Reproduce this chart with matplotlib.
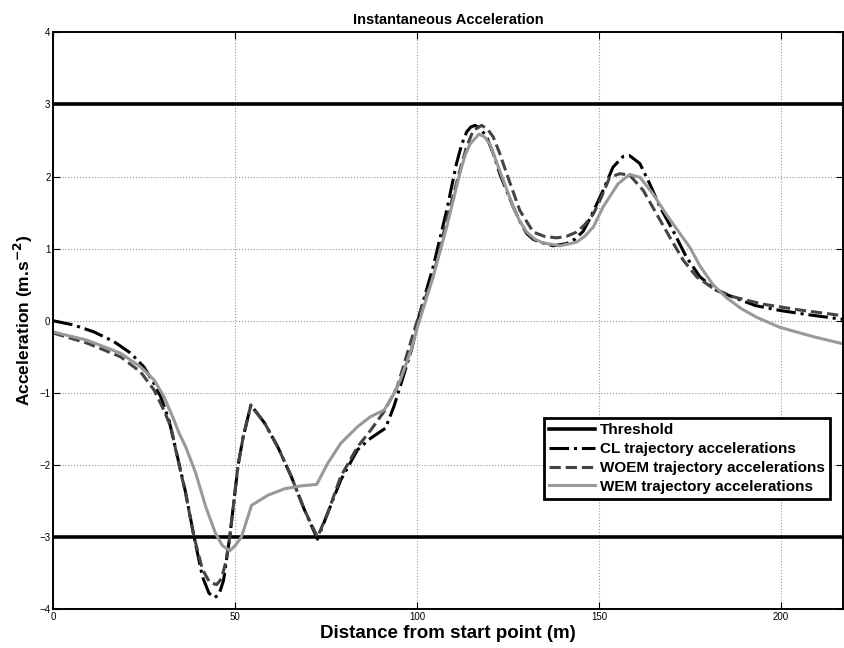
import matplotlib
matplotlib.use("Agg")
import matplotlib.pyplot as plt

plt.rcParams["font.family"] = ["Liberation Sans", "DejaVu Sans"]

# threshold levels
threshold_hi = 3
threshold_lo = -3

# CL trajectory
cl_x = [0, 5.7, 11.2, 16.7, 21.3, 24.9, 27.7, 29.5, 31.8, 33.7, 36.4, 38.7, 41, 42.8, 44.4,
        45.6, 46.8, 48.5, 50.8, 52.2, 54.3, 58.1, 61.7, 65.4, 69, 72.6, 75.4, 79, 83.6,
        87.2, 91.3, 93.6, 95.9, 98.5, 100.7, 104.4, 108.1, 110.8, 112.2, 113.6, 114.8,
        115.9, 117.3, 119.1, 120.9, 122.7, 124.6, 126.4, 128.2, 130.1, 131.9, 133.7, 137.4,
        141, 143.3, 145.6, 147.5, 151.1, 153.8, 156.6, 158.4, 161.2, 163.9, 166.7, 170.3,
        174, 177.7, 182.3, 187.7, 193, 200, 208, 217]
cl_y = [0, -0.06, -0.155, -0.29, -0.45, -0.64, -0.87, -1.05, -1.38, -1.79, -2.39, -3.0,
        -3.55, -3.78, -3.84, -3.79, -3.6, -3.0, -2.0, -1.61, -1.17, -1.42, -1.75, -2.16,
        -2.62, -3.03, -2.67, -2.21, -1.79, -1.63, -1.49, -1.19, -0.82, -0.39, 0.10, 0.75,
        1.53, 2.18, 2.44, 2.62, 2.69, 2.71, 2.67, 2.55, 2.32, 2.04, 1.80, 1.58, 1.38, 1.21,
        1.13, 1.09, 1.04, 1.07, 1.13, 1.24, 1.42, 1.81, 2.13, 2.28, 2.29, 2.18, 1.90, 1.58,
        1.25, 0.88, 0.61, 0.42, 0.31, 0.21, 0.14, 0.08, 0.02]

# WOEM trajectory
woem_x = [0, 9.3, 18.5, 24, 27.7, 30.4, 32.3, 33.7, 36.4, 38.7, 41, 43, 44.9, 46.2, 47.4,
          48.5, 50.8, 52.2, 54.3, 58.1, 61.7, 65.4, 69, 72.6, 75.4, 79, 83.6, 87.2, 90.9,
          94.5, 97, 100, 104.4, 108.1, 111.7, 113.5, 115.4, 117.7, 119.3, 120.9, 122.7,
          124.6, 128.2, 131.9, 135, 138.3, 141, 143.8, 146, 148.4, 150.5, 152.9, 155.7,
          158.4, 162.1, 165.8, 169.4, 173.1, 176.8, 181.3, 187, 195, 205, 217]
woem_y = [-0.17, -0.31, -0.5, -0.71, -0.96, -1.24, -1.47, -1.8, -2.4, -3.0, -3.45, -3.63,
          -3.66, -3.58, -3.35, -3.0, -2.0, -1.61, -1.17, -1.42, -1.75, -2.16, -2.62, -3.0,
          -2.67, -2.16, -1.75, -1.52, -1.26, -0.92, -0.5, 0.0, 0.62, 1.39, 2.08, 2.40, 2.64,
          2.71, 2.66, 2.55, 2.32, 2.04, 1.53, 1.23, 1.17, 1.15, 1.17, 1.23, 1.33, 1.48,
          1.70, 1.99, 2.04, 2.02, 1.81, 1.48, 1.16, 0.84, 0.61, 0.45, 0.33, 0.23, 0.15, 0.07]

# WEM trajectory
wem_x = [0, 9.3, 18.5, 24, 27.7, 30.4, 33.2, 34.5, 36.4, 39.2, 41.9, 44.6, 46.5, 48.5, 50,
         51.7, 54.5, 59, 63.6, 68.1, 72.4, 75.4, 79, 83.6, 87.2, 90.9, 93.6, 95.4, 98.5, 100,
         104.4, 108.1, 111.7, 113.2, 114.5, 117, 118.5, 120, 122.7, 126.4, 128.2, 130.1,
         132.4, 134.6, 139.2, 143.8, 146, 148.4, 151.1, 155.2, 158.4, 161.2, 164.8, 168.4,
         172.2, 174.9, 177.7, 181.3, 185, 189, 193.2, 199.6, 208.8, 217]
wem_y = [-0.155, -0.27, -0.45, -0.64, -0.82, -1.05, -1.38, -1.55, -1.75, -2.12, -2.58,
         -2.95, -3.12, -3.19, -3.12, -3.0, -2.56, -2.42, -2.33, -2.29, -2.27, -1.98, -1.70,
         -1.47, -1.33, -1.24, -1.01, -0.82, -0.38, -0.1, 0.61, 1.30, 2.04, 2.30, 2.45, 2.59,
         2.55, 2.45, 2.08, 1.58, 1.38, 1.23, 1.13, 1.08, 1.04, 1.09, 1.17, 1.30, 1.58, 1.90,
         2.03, 1.99, 1.76, 1.48, 1.21, 1.02, 0.76, 0.50, 0.32, 0.17, 0.05, -0.09, -0.22, -0.32]

x_ticks = [0, 50, 100, 150, 200]
y_ticks = [-4, -3, -2, -1, 0, 1, 2, 3, 4]

fig = plt.figure(figsize=(8.45, 6.48), dpi=100)
ax = fig.add_axes([0.063, 0.060, 0.9346, 0.890])

ax.axhline(threshold_hi, color="black", lw=2.6, label="Threshold")
ax.axhline(threshold_lo, color="black", lw=2.6)
ax.plot(cl_x, cl_y, color="black", lw=2.2, linestyle="-.", label="CL trajectory accelerations")
ax.plot(woem_x, woem_y, color="#444444", lw=2.2, linestyle="--", label="WOEM trajectory accelerations")
ax.plot(wem_x, wem_y, color="#999999", lw=2.2, label="WEM trajectory accelerations")

ax.set_xlim(0, 217)
ax.set_ylim(-4, 4)
ax.set_xticks(x_ticks)
ax.set_yticks(y_ticks)
ax.tick_params(direction="in", top=True, right=True, length=5, labelsize=7, pad=2)
ax.grid(True, linestyle=":", color="#999999", lw=0.8)
for s in ax.spines.values():
    s.set_linewidth(1.4)

ax.set_title("Instantaneous Acceleration", fontsize=10.5, fontweight="bold", pad=6)
ax.set_xlabel("Distance from start point (m)", fontsize=13.5, fontweight="bold", labelpad=2)
ax.set_ylabel("Acceleration (m.s$^{\\mathbf{-2}}$)", fontsize=12.5, fontweight="bold", labelpad=3)

leg = ax.legend(loc="upper right", bbox_to_anchor=(0.993, 0.345),
                prop={"weight": "bold", "size": 11}, fancybox=False, framealpha=1,
                edgecolor="black", handlelength=3.0, handletextpad=0.3,
                borderpad=0.35, labelspacing=0.32)
leg.get_frame().set_linewidth(2)

fig.savefig("out.png", dpi=100)
